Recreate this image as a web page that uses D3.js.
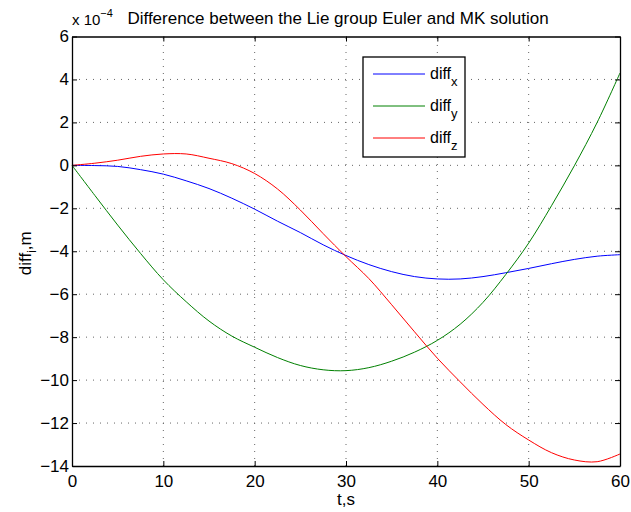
<!DOCTYPE html>
<html>
<head>
<meta charset="utf-8">
<script src="https://cdn.jsdelivr.net/npm/d3@7"></script>
<style>
  body { margin: 0; background: #fff; }
  svg { font-family: "Liberation Sans", Arial, sans-serif; }
</style>
</head>
<body>
<div id="chart"></div>
<script>
// time samples (s) and the three difference series (x 1e-4 m)
var tvals = [0, 2.5, 5, 7.5, 10, 12.5, 15, 17.5, 20, 22.5, 25, 27.5, 30,
             32.5, 35, 37.5, 40, 42.5, 45, 47.5, 50, 52.5, 55, 57.5, 60];
var diffX = [0, -0.01, -0.05, -0.2, -0.41, -0.72, -1.08, -1.53, -2.04, -2.6, -3.13, -3.7, -4.2,
             -4.62, -4.95, -5.18, -5.29, -5.29, -5.18, -5.0, -4.8, -4.58, -4.38, -4.23, -4.16];
var diffY = [0, -1.4, -2.78, -4.1, -5.33, -6.35, -7.25, -7.95, -8.47, -8.95, -9.32, -9.52, -9.56,
             -9.42, -9.12, -8.7, -8.15, -7.4, -6.38, -5.08, -3.62, -1.88, -0.02, 2.0, 4.3];
var diffZ = [0, 0.1, 0.24, 0.42, 0.53, 0.53, 0.33, 0.08, -0.38, -1.1, -2.08, -3.18, -4.25,
             -5.27, -6.49, -7.75, -8.98, -10.08, -11.13, -12.07, -12.79, -13.38, -13.72, -13.8, -13.44];

var seriesNames = ["x", "y", "z"];
var seriesColors = ["#0000ff", "#008000", "#ff0000"];
var xTicks = [0, 10, 20, 30, 40, 50, 60];
var yTicks = [-14, -12, -10, -8, -6, -4, -2, 0, 2, 4, 6];

var width = 631, height = 512;
var margin = { top: 36.5, right: 11, bottom: 46, left: 72 };

var svg = d3.select("#chart").append("svg")
    .attr("width", width)
    .attr("height", height);

var x = d3.scaleLinear().domain([0, 60]).range([margin.left, width - margin.right]);
var y = d3.scaleLinear().domain([-14, 6]).range([height - margin.bottom, margin.top]);

var fmt = function (d) { return d < 0 ? "\u2212" + Math.abs(d) : "" + d; };

// dotted grid
var grid = svg.append("g").attr("class", "grid");
grid.selectAll("line.gx")
    .data(xTicks.slice(1, -1))
    .enter().append("line")
    .attr("x1", d => x(d)).attr("x2", d => x(d))
    .attr("y1", y(-14)).attr("y2", y(6))
    .attr("stroke", "#666").attr("stroke-width", 1)
    .attr("stroke-dasharray", "1,6");
grid.selectAll("line.gy")
    .data(yTicks.slice(1, -1))
    .enter().append("line")
    .attr("y1", d => y(d)).attr("y2", d => y(d))
    .attr("x1", x(0)).attr("x2", x(60))
    .attr("stroke", "#666").attr("stroke-width", 1)
    .attr("stroke-dasharray", "1,6");

// curves
var line = d3.line()
    .x((d, i) => x(tvals[i]))
    .y(d => y(d))
    .curve(d3.curveCatmullRom);

svg.selectAll("path.series")
    .data([diffX, diffY, diffZ])
    .enter().append("path")
    .attr("class", "series")
    .attr("d", line)
    .attr("fill", "none")
    .attr("stroke", (d, i) => seriesColors[i])
    .attr("stroke-width", 1);

// axes, MATLAB style: inward ticks on all four sides
var axB = svg.append("g").attr("transform", "translate(0," + y(-14) + ")")
    .call(d3.axisBottom(x).tickValues(xTicks).tickSizeInner(-5).tickSizeOuter(0).tickPadding(9).tickFormat(fmt));
var axT = svg.append("g").attr("transform", "translate(0," + y(6) + ")")
    .call(d3.axisTop(x).tickValues(xTicks).tickSizeInner(-5).tickSizeOuter(0).tickFormat(""));
var axL = svg.append("g").attr("transform", "translate(" + x(0) + ",0)")
    .call(d3.axisLeft(y).tickValues(yTicks).tickSizeInner(-5).tickSizeOuter(0).tickPadding(3).tickFormat(fmt));
var axR = svg.append("g").attr("transform", "translate(" + x(60) + ",0)")
    .call(d3.axisRight(y).tickValues(yTicks).tickSizeInner(-5).tickSizeOuter(0).tickFormat(""));

[axB, axT, axL, axR].forEach(function (a) {
    a.select(".domain").attr("stroke", "#000").attr("stroke-width", 1.3);
    a.selectAll(".tick line").attr("stroke", "#000");
    a.selectAll(".tick text").attr("fill", "#000").attr("font-size", 17)
        .attr("font-family", "Liberation Sans, Arial, sans-serif");
});

// title + exponent
svg.append("text")
    .attr("x", 338).attr("y", 24)
    .attr("text-anchor", "middle")
    .attr("font-size", 17)
    .text("Difference between the Lie group Euler and MK solution");

var ex = svg.append("text").attr("x", 72).attr("y", 25).attr("font-size", 15);
ex.append("tspan").text("x 10");
ex.append("tspan").attr("dy", -8).attr("font-size", 11).text("\u22124");

// axis labels
svg.append("text")
    .attr("x", x(30)).attr("y", 505)
    .attr("text-anchor", "middle")
    .attr("font-size", 17)
    .text("t,s");

var yl = svg.append("text")
    .attr("transform", "translate(31," + (y(-4) + 2) + ") rotate(-90)")
    .attr("text-anchor", "middle")
    .attr("font-size", 17);
yl.append("tspan").text("diff");
yl.append("tspan").attr("dy", 5).attr("font-size", 12).text("i");
yl.append("tspan").attr("dy", -5).text(",m");

// legend
var leg = svg.append("g");
leg.append("rect")
    .attr("x", 363).attr("y", 57).attr("width", 102).attr("height", 100)
    .attr("fill", "#fff").attr("stroke", "#000").attr("stroke-width", 1.3);

var item = leg.selectAll("g.item")
    .data(seriesNames)
    .enter().append("g")
    .attr("transform", (d, i) => "translate(0," + (74 + i * 32) + ")");
item.append("line")
    .attr("x1", 373).attr("x2", 425)
    .attr("stroke", (d, i) => seriesColors[i]).attr("stroke-width", 1);
var lt = item.append("text").attr("x", 430).attr("y", 5).attr("font-size", 16);
lt.append("tspan").text("diff");
lt.append("tspan").attr("dy", 7).attr("font-size", 13).text(d => d);
</script>
</body>
</html>
